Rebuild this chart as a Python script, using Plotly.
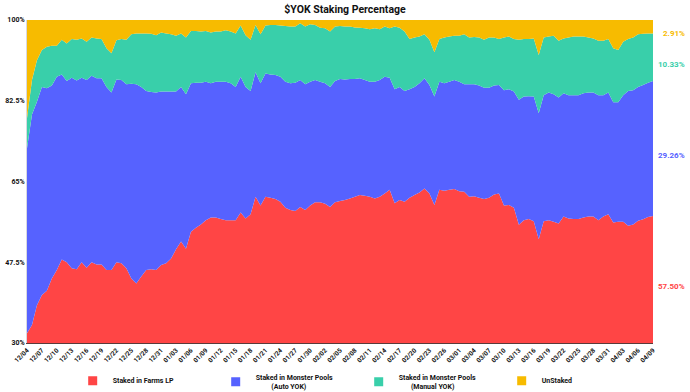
import pandas as pd
import plotly.graph_objects as go

# ---- data ----
dates = pd.date_range("2021-12-04", "2022-04-09", freq="D")

farms_lp = [32.1, 33.9, 38.2, 40.4, 41.3, 44.0, 45.8, 48.1, 47.5, 46.2,
            46.0, 47.5, 46.3, 47.5, 47.0, 47.0, 45.8, 45.8, 47.5, 47.3,
            46.2, 44.0, 42.9, 44.4, 45.8, 46.0, 45.8, 46.9, 47.3, 48.3,
            50.3, 52.0, 50.4, 54.1, 55.0, 55.7, 56.6, 57.2, 57.2, 56.9,
            56.6, 56.6, 56.6, 58.3, 57.0, 57.9, 61.7, 59.8, 61.7, 61.5,
            61.2, 60.6, 59.3, 58.8, 58.6, 59.5, 58.8, 59.8, 60.5, 60.5,
            60.2, 59.5, 60.5, 60.8, 61.0, 61.3, 61.7, 62.1, 61.9, 61.7,
            61.3, 61.7, 62.4, 63.2, 60.3, 61.0, 60.6, 61.5, 62.1, 62.6,
            63.5, 62.4, 59.9, 63.2, 63.0, 63.2, 63.4, 62.9, 62.8, 61.7,
            61.8, 61.5, 61.2, 61.5, 62.2, 62.4, 59.8, 59.9, 59.3, 55.6,
            56.6, 56.9, 56.4, 52.5, 56.4, 56.6, 56.3, 55.9, 57.4, 57.0,
            56.9, 56.9, 57.2, 57.4, 57.4, 56.6, 57.4, 57.9, 56.1, 56.3,
            56.3, 55.4, 55.7, 56.5, 56.8, 57.3, 57.50]

auto_yok = [40.1, 45.6, 44.1, 45.1, 43.9, 41.8, 41.9, 40.1, 39.3, 41.3,
            40.9, 40.0, 40.7, 40.4, 40.4, 40.4, 39.7, 38.5, 39.6, 39.7,
            39.9, 42.2, 43.2, 41.1, 38.8, 38.4, 38.5, 37.6, 37.2, 36.2,
            34.2, 33.5, 33.5, 32.2, 31.4, 30.7, 30.0, 29.1, 29.4, 29.7,
            30.0, 29.7, 28.9, 29.4, 28.5, 26.7, 27.0, 26.5, 26.7, 26.7,
            26.9, 27.1, 27.3, 27.5, 27.8, 27.5, 27.3, 26.8, 26.5, 26.1,
            26.1, 26.0, 26.3, 26.4, 26.1, 25.9, 25.5, 25.3, 25.1, 24.9,
            25.3, 25.3, 25.3, 24.3, 24.7, 24.5, 24.0, 23.5, 23.4, 23.7,
            23.9, 23.5, 23.5, 23.4, 23.3, 23.4, 23.6, 23.7, 23.3, 24.4,
            24.3, 24.3, 24.1, 23.8, 23.6, 23.5, 25.0, 25.1, 25.2, 27.1,
            26.8, 26.6, 27.0, 27.3, 27.3, 27.7, 27.6, 27.3, 26.7, 26.7,
            26.8, 26.8, 26.9, 26.9, 26.9, 27.1, 26.3, 26.4, 26.1, 25.9,
            27.4, 29.2, 29.1, 29.0, 29.1, 29.1, 29.26]

manual_yok = [6.5, 7.5, 9.0, 8.0, 9.0, 8.6, 6.7, 7.5, 8.1, 8.4,
              8.8, 8.5, 8.3, 8.3, 8.6, 8.5, 8.4, 8.5, 8.5, 8.9,
              9.6, 10.7, 11.0, 11.6, 12.5, 12.6, 12.4, 12.8, 12.6, 12.4,
              12.1, 11.6, 12.3, 11.3, 11.2, 11.1, 11.0, 11.0, 10.9, 10.9,
              11.2, 11.2, 11.6, 11.1, 11.2, 11.1, 10.2, 10.6, 10.4, 10.7,
              10.8, 11.1, 12.1, 12.3, 12.2, 12.3, 12.5, 12.5, 11.9, 11.7,
              11.9, 12.0, 11.8, 11.5, 11.5, 11.4, 11.2, 10.9, 11.2, 11.4,
              11.6, 11.0, 10.9, 10.7, 13.6, 12.8, 12.9, 10.9, 10.7, 10.1,
              9.5, 9.8, 9.6, 9.3, 9.9, 9.8, 9.6, 10.0, 10.8, 10.1,
              10.2, 10.4, 10.4, 10.9, 10.4, 10.0, 11.4, 11.4, 11.4, 13.0,
              12.5, 12.4, 12.6, 12.6, 12.5, 12.1, 12.7, 12.3, 11.9, 12.5,
              12.7, 12.7, 12.3, 11.9, 11.7, 11.8, 11.8, 11.6, 11.7, 11.3,
              11.6, 11.3, 11.4, 11.4, 11.1, 10.7, 10.33]

unstaked = [21.3, 13.0, 8.7, 6.5, 5.8, 5.6, 5.6, 4.3, 5.1, 4.1,
            4.3, 4.0, 4.7, 3.8, 4.0, 4.1, 6.1, 7.2, 4.4, 4.1,
            4.3, 3.1, 2.9, 2.9, 2.9, 3.0, 3.3, 2.7, 2.9, 3.1,
            3.4, 2.9, 3.8, 2.4, 2.4, 2.5, 2.4, 2.7, 2.5, 2.5,
            2.2, 2.5, 2.9, 1.2, 3.3, 4.3, 1.1, 3.1, 1.2, 1.1,
            1.1, 1.2, 1.3, 1.4, 1.4, 0.7, 1.4, 0.9, 1.1, 1.7,
            1.8, 2.5, 1.4, 1.3, 1.4, 1.4, 1.6, 1.7, 1.8, 2.0,
            1.8, 2.0, 1.4, 1.8, 1.4, 1.7, 2.5, 4.1, 3.8, 3.6,
            3.1, 4.3, 7.0, 4.1, 3.8, 3.6, 3.4, 3.4, 3.1, 3.8,
            3.7, 3.8, 4.3, 3.8, 3.8, 4.1, 3.8, 3.6, 4.1, 4.3,
            4.1, 4.1, 4.0, 7.6, 3.8, 3.6, 3.4, 4.5, 4.0, 3.8,
            3.6, 3.6, 3.6, 3.8, 4.0, 4.5, 4.5, 4.1, 6.1, 6.5,
            4.7, 4.1, 3.8, 3.1, 3.0, 2.9, 2.91]

series_names = ["Staked in Farms LP",
                "Staked in Monster Pools<br>\u00a0\u00a0\u00a0\u00a0\u00a0\u00a0\u00a0\u00a0\u00a0(Auto YOK)",
                "Staked in Monster Pools<br>\u00a0\u00a0\u00a0\u00a0\u00a0\u00a0\u00a0(Manual YOK)",
                "UnStaked"]
series_values = [farms_lp, auto_yok, manual_yok, unstaked]
colors = ["#FF4545", "#5662FF", "#39CFAA", "#F7BB00"]

y_tickvals = [30, 47.5, 65, 82.5, 100]
y_ticktext = ["30%", "47.5%", "65%", "82.5%", "100%"]

FONT = "Roboto"

fig = go.Figure()
for name, vals, col in zip(series_names, series_values, colors):
    fig.add_trace(go.Scatter(
        x=dates, y=vals, stackgroup="one", mode="none",
        fillcolor=col, name=name, showlegend=False,
        hoverinfo="x+y+name"))
# legend proxies (square swatches)
for name, col in zip(series_names, colors):
    fig.add_trace(go.Scatter(
        x=[None], y=[None], mode="markers", name=name,
        marker=dict(symbol="square", size=9, color=col),
        showlegend=True))

# right-side last-value labels
cum = 0
for vals, col in zip(series_values, colors):
    last = vals[-1]
    lo = max(cum, 30)
    hi = cum + last
    mid = (lo + hi) / 2
    cum = hi
    fig.add_annotation(
        xref="paper", yref="y", x=1.054, y=mid, yshift=-7,
        xanchor="right", yanchor="middle", showarrow=False,
        text=f"<b>{last:.2f}%</b>",
        font=dict(family=FONT, size=8, color=col))

fig.update_layout(
    width=690, height=392,
    margin=dict(l=27, r=37, t=20, b=49, autoexpand=False),
    paper_bgcolor="white", plot_bgcolor="white",
    title=dict(text="<b>$YOK Staking Percentage</b>", x=0.5, xanchor="center",
               y=0.985, yanchor="top",
               font=dict(family=FONT, size=10.5, color="#111")),
    showlegend=True,
    legend=dict(orientation="h", x=0.073, xanchor="left", y=-0.072, yanchor="top",
                traceorder="normal",
                font=dict(family=FONT, size=7, color="#111", weight="bold"),
                itemwidth=30, entrywidth=98, entrywidthmode="pixels",
                bgcolor="rgba(0,0,0,0)", tracegroupgap=0),
    xaxis=dict(
        range=[dates[0], dates[-1]], tickformat="%m/%d",
        tick0=dates[0], dtick=3 * 86400000, tickangle=-45,
        showgrid=False, zeroline=False, showline=True,
        linecolor="#5a3a3a", linewidth=1, ticks="",
        tickfont=dict(family=FONT, size=6.5, color="#111", weight="bold")),
    yaxis=dict(
        range=[30, 100], tickvals=y_tickvals, ticktext=y_ticktext,
        showgrid=False, zeroline=False, showline=True,
        linecolor="#d8d8e0", linewidth=1, ticks="",
        tickfont=dict(family=FONT, size=7, color="#111", weight="bold")),
)

fig.write_html("out.html")
